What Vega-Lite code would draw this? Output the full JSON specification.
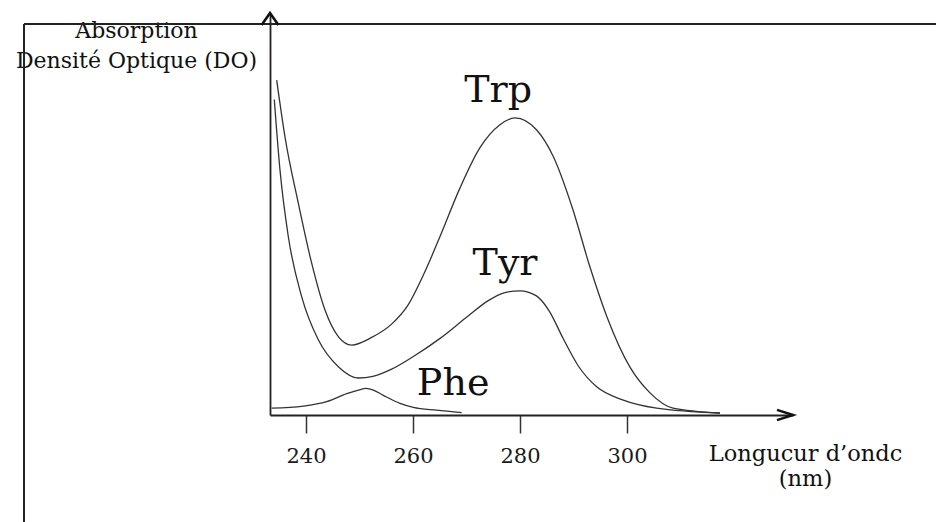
{
  "$schema": "https://vega.github.io/schema/vega-lite/v6.json",
  "width": 523,
  "height": 402,
  "autosize": {"type": "none"},
  "padding": {"left": 270, "top": 13, "right": 143, "bottom": 107},
  "background": "white",
  "config": {"view": {"stroke": null}, "font": "DejaVu Serif"},
  "datasets": {
    "spectra": [
      {"species": "Trp", "nm": 234.52, "DO": 0.833},
      {"species": "Trp", "nm": 236.07, "DO": 0.692},
      {"species": "Trp", "nm": 238.56, "DO": 0.527},
      {"species": "Trp", "nm": 241.07, "DO": 0.377},
      {"species": "Trp", "nm": 243.55, "DO": 0.261},
      {"species": "Trp", "nm": 246.04, "DO": 0.195},
      {"species": "Trp", "nm": 248.54, "DO": 0.174},
      {"species": "Trp", "nm": 252.28, "DO": 0.193},
      {"species": "Trp", "nm": 256.0, "DO": 0.226},
      {"species": "Trp", "nm": 259.0, "DO": 0.272},
      {"species": "Trp", "nm": 262.0, "DO": 0.35},
      {"species": "Trp", "nm": 265.05, "DO": 0.444},
      {"species": "Trp", "nm": 268.79, "DO": 0.565},
      {"species": "Trp", "nm": 272.52, "DO": 0.665},
      {"species": "Trp", "nm": 276.26, "DO": 0.722},
      {"species": "Trp", "nm": 279.07, "DO": 0.739},
      {"species": "Trp", "nm": 283.12, "DO": 0.709},
      {"species": "Trp", "nm": 286.22, "DO": 0.643},
      {"species": "Trp", "nm": 289.91, "DO": 0.51},
      {"species": "Trp", "nm": 293.08, "DO": 0.368},
      {"species": "Trp", "nm": 296.26, "DO": 0.244},
      {"species": "Trp", "nm": 300.56, "DO": 0.119},
      {"species": "Trp", "nm": 304.3, "DO": 0.055},
      {"species": "Trp", "nm": 308.6, "DO": 0.017},
      {"species": "Trp", "nm": 317.38, "DO": 0.005},
      {"species": "Tyr", "nm": 234.07, "DO": 0.785},
      {"species": "Tyr", "nm": 235.14, "DO": 0.609},
      {"species": "Tyr", "nm": 236.69, "DO": 0.444},
      {"species": "Tyr", "nm": 239.2, "DO": 0.294},
      {"species": "Tyr", "nm": 242.3, "DO": 0.187},
      {"species": "Tyr", "nm": 246.04, "DO": 0.12},
      {"species": "Tyr", "nm": 249.78, "DO": 0.092},
      {"species": "Tyr", "nm": 252.5, "DO": 0.096},
      {"species": "Tyr", "nm": 256.0, "DO": 0.114},
      {"species": "Tyr", "nm": 260.0, "DO": 0.145},
      {"species": "Tyr", "nm": 265.0, "DO": 0.19},
      {"species": "Tyr", "nm": 270.0, "DO": 0.243},
      {"species": "Tyr", "nm": 274.0, "DO": 0.284},
      {"species": "Tyr", "nm": 277.0, "DO": 0.304},
      {"species": "Tyr", "nm": 280.0, "DO": 0.309},
      {"species": "Tyr", "nm": 283.0, "DO": 0.297},
      {"species": "Tyr", "nm": 285.5, "DO": 0.258},
      {"species": "Tyr", "nm": 288.0, "DO": 0.192},
      {"species": "Tyr", "nm": 291.0, "DO": 0.12},
      {"species": "Tyr", "nm": 294.34, "DO": 0.07},
      {"species": "Tyr", "nm": 299.31, "DO": 0.037},
      {"species": "Tyr", "nm": 305.55, "DO": 0.017},
      {"species": "Tyr", "nm": 317.38, "DO": 0.005},
      {"species": "Phe", "nm": 233.59, "DO": 0.017},
      {"species": "Phe", "nm": 239.5, "DO": 0.022},
      {"species": "Phe", "nm": 243.87, "DO": 0.033},
      {"species": "Phe", "nm": 247.61, "DO": 0.053},
      {"species": "Phe", "nm": 249.8, "DO": 0.062},
      {"species": "Phe", "nm": 251.2, "DO": 0.066},
      {"species": "Phe", "nm": 252.6, "DO": 0.062},
      {"species": "Phe", "nm": 254.45, "DO": 0.049},
      {"species": "Phe", "nm": 257.57, "DO": 0.029},
      {"species": "Phe", "nm": 260.06, "DO": 0.019},
      {"species": "Phe", "nm": 264.43, "DO": 0.012},
      {"species": "Phe", "nm": 269.1, "DO": 0.006}
    ],
    "labels": [
      {"label": "Trp", "nm": 275.9, "DO": 0.779},
      {"label": "Tyr", "nm": 277.2, "DO": 0.348},
      {"label": "Phe", "nm": 267.5, "DO": 0.05}
    ]
  },
  "layer": [
    {
      "data": {"name": "spectra"},
      "mark": {"type": "line", "interpolate": "monotone", "color": "#333333", "strokeWidth": 1.3},
      "encoding": {
        "x": {
          "field": "nm",
          "type": "quantitative",
          "scale": {"domain": [233.27, 331.03], "nice": false, "zero": false},
          "axis": {
            "values": [240, 260, 280, 300],
            "format": "d",
            "grid": false,
            "domainColor": "#222222",
            "domainWidth": 1.8,
            "tickColor": "#333333",
            "tickWidth": 1.5,
            "tickSize": 18,
            "labelFont": "DejaVu Serif",
            "labelFontSize": 21,
            "labelColor": "#1a1a1a",
            "labelPadding": 12,
            "labelBaseline": "top",
            "labelFlush": false,
            "title": ["Longucur d’ondc", "(nm)"],
            "titleFont": "DejaVu Serif",
            "titleFontSize": 22.5,
            "titleFontWeight": "normal",
            "titleLineHeight": 25,
            "titleAlign": "center",
            "titleBaseline": "top",
            "titleAngle": 0,
            "titleX": 535,
            "titleY": 27,
            "titleColor": "#111111"
          }
        },
        "y": {
          "field": "DO",
          "type": "quantitative",
          "scale": {"domain": [0, 1], "nice": false, "zero": false},
          "axis": {
            "grid": false,
            "ticks": false,
            "labels": false,
            "domainColor": "#222222",
            "domainWidth": 1.8,
            "title": ["Absorption", "Densité Optique (DO)"],
            "titleFont": "DejaVu Serif",
            "titleFontSize": 22,
            "titleFontWeight": "normal",
            "titleLineHeight": 30,
            "titleAngle": 0,
            "titleAlign": "center",
            "titleBaseline": "top",
            "titleX": -134,
            "titleY": 7,
            "titleColor": "#111111"
          }
        },
        "detail": {"field": "species", "type": "nominal"}
      }
    },
    {
      "data": {"name": "labels"},
      "mark": {"type": "text", "font": "DejaVu Serif", "fontSize": 38, "align": "center", "baseline": "alphabetic", "color": "#111111"},
      "encoding": {
        "x": {"field": "nm", "type": "quantitative"},
        "y": {"field": "DO", "type": "quantitative"},
        "text": {"field": "label"}
      }
    },
    {
      "data": {"values": [{}]},
      "mark": {"type": "rule", "color": "#222222", "strokeWidth": 2},
      "encoding": {
        "x": {"datum": 187.29, "type": "quantitative"},
        "y": {"datum": 0.9726, "type": "quantitative"},
        "y2": {"datum": -0.3}
      }
    },
    {
      "data": {"values": [{}]},
      "mark": {"type": "rule", "color": "#222222", "strokeWidth": 2},
      "encoding": {
        "x": {"datum": 187.29, "type": "quantitative"},
        "x2": {"datum": 360},
        "y": {"datum": 0.9726, "type": "quantitative"}
      }
    },
    {
      "data": {"values": [{}]},
      "mark": {"type": "point", "shape": "M-1,-0.32L0,0L-1,0.32", "size": 1024, "filled": false, "color": "#111111", "strokeWidth": 2.6, "opacity": 1},
      "encoding": {
        "x": {"datum": 331.03, "type": "quantitative"},
        "y": {"datum": 0, "type": "quantitative"}
      }
    },
    {
      "data": {"values": [{}]},
      "mark": {"type": "point", "shape": "M-0.7,1L0,0L0.7,1", "size": 576, "filled": false, "color": "#111111", "strokeWidth": 2.6, "opacity": 1},
      "encoding": {
        "x": {"datum": 233.27, "type": "quantitative"},
        "y": {"datum": 1, "type": "quantitative"}
      }
    }
  ]
}
